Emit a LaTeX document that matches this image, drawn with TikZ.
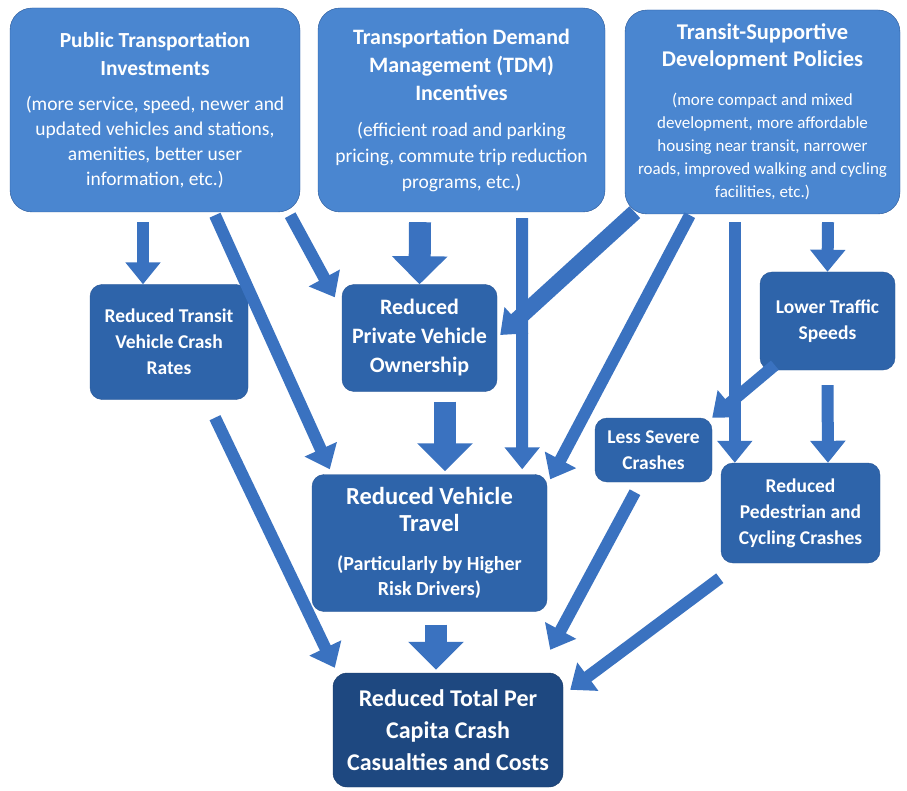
\documentclass[tikz,border=0pt]{standalone}
\usepackage{fontspec}
\setmainfont{Carlito}
\usepackage{xcolor}
\usetikzlibrary{arrows.meta}

\definecolor{topblue}{RGB}{74,134,208}
\definecolor{midblue}{RGB}{46,100,170}
\definecolor{endblue}{RGB}{30,72,128}
\definecolor{arrowblue}{RGB}{58,114,192}
\definecolor{rimblue}{RGB}{40,86,150}

\tikzset{
  topbox/.style={draw=rimblue, fill=topblue, rounded corners=22pt, text=white, align=center, inner sep=0pt},
  midbox/.style={draw=rimblue, fill=midblue, rounded corners=12pt, text=white, align=center, inner sep=0pt,
    font=\fontsize{19.5}{26}\selectfont\bfseries},
  endbox/.style={draw=endblue!80!black, fill=endblue, rounded corners=14pt, text=white, align=center, inner sep=0pt,
    font=\fontsize{24}{32}\selectfont\bfseries},
  link/.style={draw=arrowblue, line width=12pt, -{Triangle[width=34pt,length=22pt]}},
  fatlink/.style={draw=arrowblue, line width=22pt, -{Triangle[width=54pt,length=28pt]}}
}

\begin{document}
\begin{tikzpicture}[x=1pt, y=-1pt]
  \useasboundingbox (0,0) rectangle (907,791);

  % top row
  \node (pti) at (155,110) [topbox, minimum width=290pt, minimum height=204pt,
    font=\fontsize{19.5}{25}\selectfont]
    {\fontsize{21.5}{25}\selectfont\bfseries Public Transportation\\[3pt]
     \fontsize{21.5}{25}\selectfont\bfseries Investments\\[10pt]
     (more service, speed, newer and\\
     updated vehicles and stations,\\
     amenities, better user\\
     information, etc.)};
  \node (tdm) at (461.5,110) [topbox, minimum width=287pt, minimum height=204pt,
    font=\fontsize{19.5}{26}\selectfont]
    {\fontsize{22}{26}\selectfont\bfseries Transportation Demand\\[2pt]
     \fontsize{22}{26}\selectfont\bfseries Management (TDM)\\[2pt]
     \fontsize{22}{26}\selectfont\bfseries Incentives\\[10pt]
     (efficient road and parking\\
     pricing, commute trip reduction\\
     programs, etc.)};
  \node (tsdp) at (762.5,112) [topbox, minimum width=275pt, minimum height=204pt,
    font=\fontsize{17}{23}\selectfont]
    {\fontsize{22.5}{23}\selectfont\bfseries Transit-Supportive\\[4pt]
     \fontsize{22.5}{23}\selectfont\bfseries Development Policies\\[16pt]
     (more compact and mixed\\
     development, more affordable\\
     housing near transit, narrower\\
     roads, improved walking and cycling\\
     facilities, etc.)};

  % middle boxes
  \node (rtv) at (169,342) [midbox, minimum width=158pt, minimum height=115pt]
    {Reduced Transit\\Vehicle Crash\\Rates};
  \node (rpvo) at (419.5,338) [midbox, minimum width=155pt, minimum height=107pt,
    font=\fontsize{22}{29}\selectfont\bfseries] {Reduced\\Private Vehicle\\Ownership};
  \node (lts) at (827.5,321) [midbox, minimum width=135pt, minimum height=98pt]
    {Lower Traffic\\Speeds};
  \node (lsc) at (653.5,450) [midbox, minimum width=117pt, minimum height=64pt]
    {Less Severe\\Crashes};
  \node (rvt) at (429.5,543) [midbox, minimum width=235pt, minimum height=137pt,
    font=\fontsize{20}{25}\selectfont\bfseries]
    {\fontsize{24.5}{25}\selectfont\bfseries Reduced Vehicle\\[2pt]
     \fontsize{24.5}{25}\selectfont\bfseries Travel\\[14pt]
     (Particularly by Higher\\
     Risk Drivers)};
  \node (rpcc) at (800.5,513) [midbox, minimum width=159pt, minimum height=100pt]
    {Reduced\\Pedestrian and\\Cycling Crashes};

  % outcome
  \node (rtc) at (448,730) [endbox, minimum width=230pt, minimum height=114pt]
    {Reduced Total Per\\Capita Crash\\Casualties and Costs};

  % arrows
  \draw[link] ([xshift=-12pt,yshift=-10pt]pti.south) -- ([xshift=-26pt]rtv.north);
  \draw[link] ([xshift=60pt,yshift=-3pt]pti.south) -- ([xshift=18pt,yshift=5pt]rvt.north west);
  \draw[link] ([xshift=-10pt,yshift=-3pt]pti.south east) -- ([xshift=-7pt,yshift=-13pt]rpvo.north west);
  \draw[fatlink] ([xshift=-41.5pt,yshift=-10pt]tdm.south) -- (rpvo.north);
  \draw[link] ([xshift=60.5pt,yshift=-6pt]tdm.south) -- ([xshift=-25pt,yshift=5pt]rvt.north east);
  \draw[link, line width=16pt] ([xshift=10pt,yshift=2pt]tsdp.south west) -- ([xshift=3pt,yshift=3pt]rpvo.east);
  \draw[link] ([xshift=65pt,yshift=-1pt]tsdp.south west) -- ([xshift=3pt,yshift=-5pt]rvt.north east);
  \draw[link] ([xshift=110pt,yshift=-8pt]tsdp.south west) -- ([xshift=14pt]rpcc.north west);
  \draw[link] ([xshift=65.5pt,yshift=-8pt]tsdp.south) -- (lts.north);
  \draw[link] ([xshift=15pt,yshift=5pt]lts.south west) -- (lsc.north east);
  \draw[link] ([yshift=-15pt]lts.south) -- ([xshift=27.5pt]rpcc.north);
  \draw[fatlink] ([xshift=25.5pt,yshift=-10pt]rpvo.south) -- ([xshift=15.5pt,yshift=3pt]rvt.north);
  \draw[link] ([xshift=46pt,yshift=-18pt]rtv.south) -- ([xshift=2pt,yshift=5pt]rtc.north west);
  \draw[link] ([xshift=-18.5pt,yshift=-10pt]lsc.south) -- ([xshift=-13pt,yshift=23pt]rtc.north east);
  \draw[link] ([xshift=-1pt,yshift=-15pt]rpcc.south west) -- ([xshift=7pt,yshift=-17pt]rtc.north east);
  \draw[fatlink] ([xshift=6.5pt,yshift=-13pt]rvt.south) -- ([xshift=-12pt,yshift=3pt]rtc.north);
\end{tikzpicture}
\end{document}
